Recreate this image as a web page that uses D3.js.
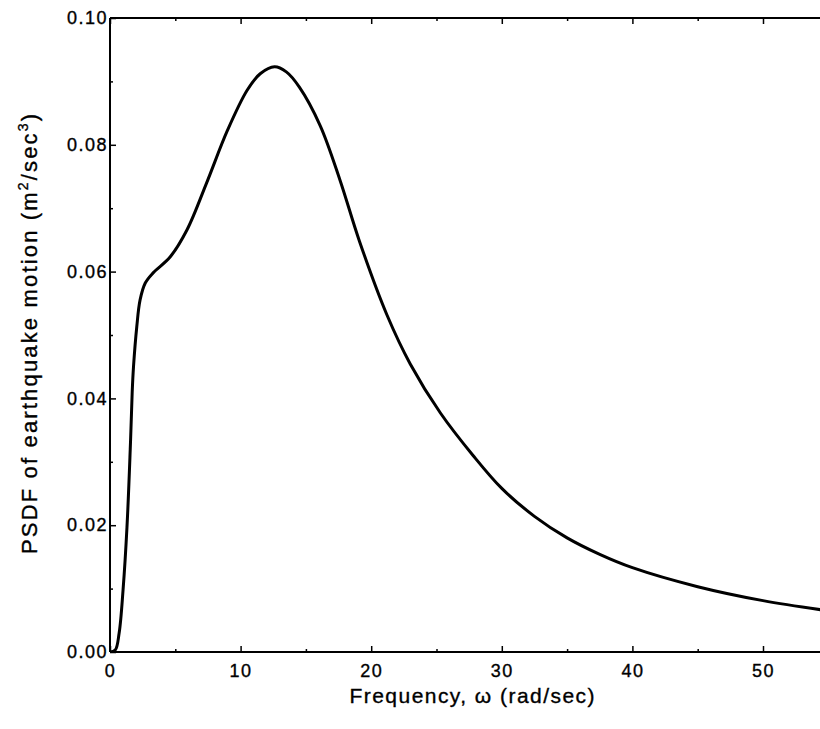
<!DOCTYPE html>
<html>
<head>
<meta charset="utf-8">
<script src="https://cdn.jsdelivr.net/npm/d3@7"></script>
<style>
  body { margin: 0; background: #fff; }
  text { font-family: "Liberation Sans", Arial, sans-serif; fill: #000; stroke: #000; stroke-width: 0.35px; }
</style>
</head>
<body>
<svg id="chart"></svg>
<script>
// frequency (rad/sec) and PSDF values
const omega = [0, 0.4, 0.7, 1.0, 1.3, 1.55, 1.7, 1.8, 2.05, 2.3, 2.7, 3.3, 4.6, 5.9, 7.4, 9.0, 10.5, 11.5, 12.6, 13.5, 14.5, 16.1, 17.6, 19.1, 21.2, 23.0, 25.3, 27.8, 30, 32.5, 35, 37.5, 40, 45, 50, 55];
const psdf = [0, 0.0003, 0.003, 0.0098, 0.0197, 0.032, 0.041, 0.045, 0.0513, 0.0555, 0.0582, 0.0598, 0.0623, 0.0666, 0.074, 0.0823, 0.0886, 0.0912, 0.0923, 0.0915, 0.0891, 0.083, 0.0745, 0.0648, 0.0532, 0.0454, 0.0377, 0.031, 0.0258, 0.0214, 0.018, 0.0154, 0.0133, 0.0103, 0.0081, 0.0065];

const xTicks = [0, 10, 20, 30, 40, 50];
const xMinor = [5, 15, 25, 35, 45];
const yTicks = [0, 0.02, 0.04, 0.06, 0.08, 0.1];
const yMinor = [0.01, 0.03, 0.05, 0.07, 0.09];

const width = 820;
const height = 729;
const margin = { top: 18, left: 110, bottom: 77 };

const data = omega.map((w, i) => ({ w: w, v: psdf[i] }));

const svg = d3.select("#chart").attr("width", width).attr("height", height);

const x = d3.scaleLinear().domain([0, 55]).range([margin.left, margin.left + 55 * 13.06]);
const y = d3.scaleLinear().domain([0, 0.1]).range([height - margin.bottom, margin.top]);

svg.append("defs").append("clipPath").attr("id", "clip")
  .append("rect")
  .attr("x", margin.left).attr("y", margin.top)
  .attr("width", width - margin.left).attr("height", y(0) - margin.top);

// curve
const line = d3.line()
  .x(d => x(d.w))
  .y(d => y(d.v))
  .curve(d3.curveCatmullRom.alpha(0.5));

svg.append("path")
  .datum(data)
  .attr("clip-path", "url(#clip)")
  .attr("fill", "none")
  .attr("stroke", "#000")
  .attr("stroke-width", 3)
  .attr("stroke-linejoin", "round")
  .attr("d", line);

// helper: axis with inward ticks
function styleAxis(g) {
  g.select(".domain").remove();
  g.selectAll(".tick line").attr("stroke", "#000").attr("stroke-width", 1.5);
  g.selectAll(".tick text").style("font-size", "18px").style("letter-spacing", "1.5px");
}

// bottom axis
svg.append("g")
  .attr("transform", `translate(0,${y(0)})`)
  .call(d3.axisBottom(x).tickValues(xTicks).tickSize(-6).tickPadding(12).tickFormat(d3.format("d")))
  .call(styleAxis);
svg.append("g")
  .attr("transform", `translate(0,${y(0)})`)
  .call(d3.axisBottom(x).tickValues(xMinor).tickSize(-3).tickFormat(""))
  .call(styleAxis);

// top axis ticks
svg.append("g")
  .attr("transform", `translate(0,${margin.top})`)
  .call(d3.axisTop(x).tickValues(xTicks).tickSize(-6).tickFormat(""))
  .call(styleAxis);
svg.append("g")
  .attr("transform", `translate(0,${margin.top})`)
  .call(d3.axisTop(x).tickValues(xMinor).tickSize(-3).tickFormat(""))
  .call(styleAxis);

// left axis
svg.append("g")
  .attr("transform", `translate(${margin.left},0)`)
  .call(d3.axisLeft(y).tickValues(yTicks).tickSize(-6).tickPadding(2).tickFormat(d3.format(".2f")))
  .call(styleAxis);
svg.append("g")
  .attr("transform", `translate(${margin.left},0)`)
  .call(d3.axisLeft(y).tickValues(yMinor).tickSize(-3).tickFormat(""))
  .call(styleAxis);

// frame lines (left, bottom, top)
svg.append("line").attr("x1", margin.left).attr("x2", margin.left)
  .attr("y1", margin.top).attr("y2", y(0))
  .attr("stroke", "#000").attr("stroke-width", 2);
svg.append("line").attr("x1", margin.left).attr("x2", width)
  .attr("y1", y(0)).attr("y2", y(0))
  .attr("stroke", "#000").attr("stroke-width", 2);
svg.append("line").attr("x1", margin.left).attr("x2", width)
  .attr("y1", margin.top).attr("y2", margin.top)
  .attr("stroke", "#000").attr("stroke-width", 2);

// axis labels
svg.append("text")
  .attr("x", 472)
  .attr("y", 703)
  .attr("text-anchor", "middle")
  .attr("textLength", 245)
  .attr("lengthAdjust", "spacing")
  .style("font-size", "21px")
  .text("Frequency, ω (rad/sec)");

const yl = svg.append("text")
  .attr("transform", "translate(37,334) rotate(-90)")
  .attr("text-anchor", "middle")
  .attr("textLength", 440)
  .attr("lengthAdjust", "spacing")
  .style("font-size", "22px");
yl.append("tspan").text("PSDF of earthquake motion (m");
yl.append("tspan").attr("dy", -9).style("font-size", "14px").text("2");
yl.append("tspan").attr("dy", 9).text("/sec");
yl.append("tspan").attr("dy", -9).style("font-size", "14px").text("3");
yl.append("tspan").attr("dy", 9).text(")");
</script>
</body>
</html>
